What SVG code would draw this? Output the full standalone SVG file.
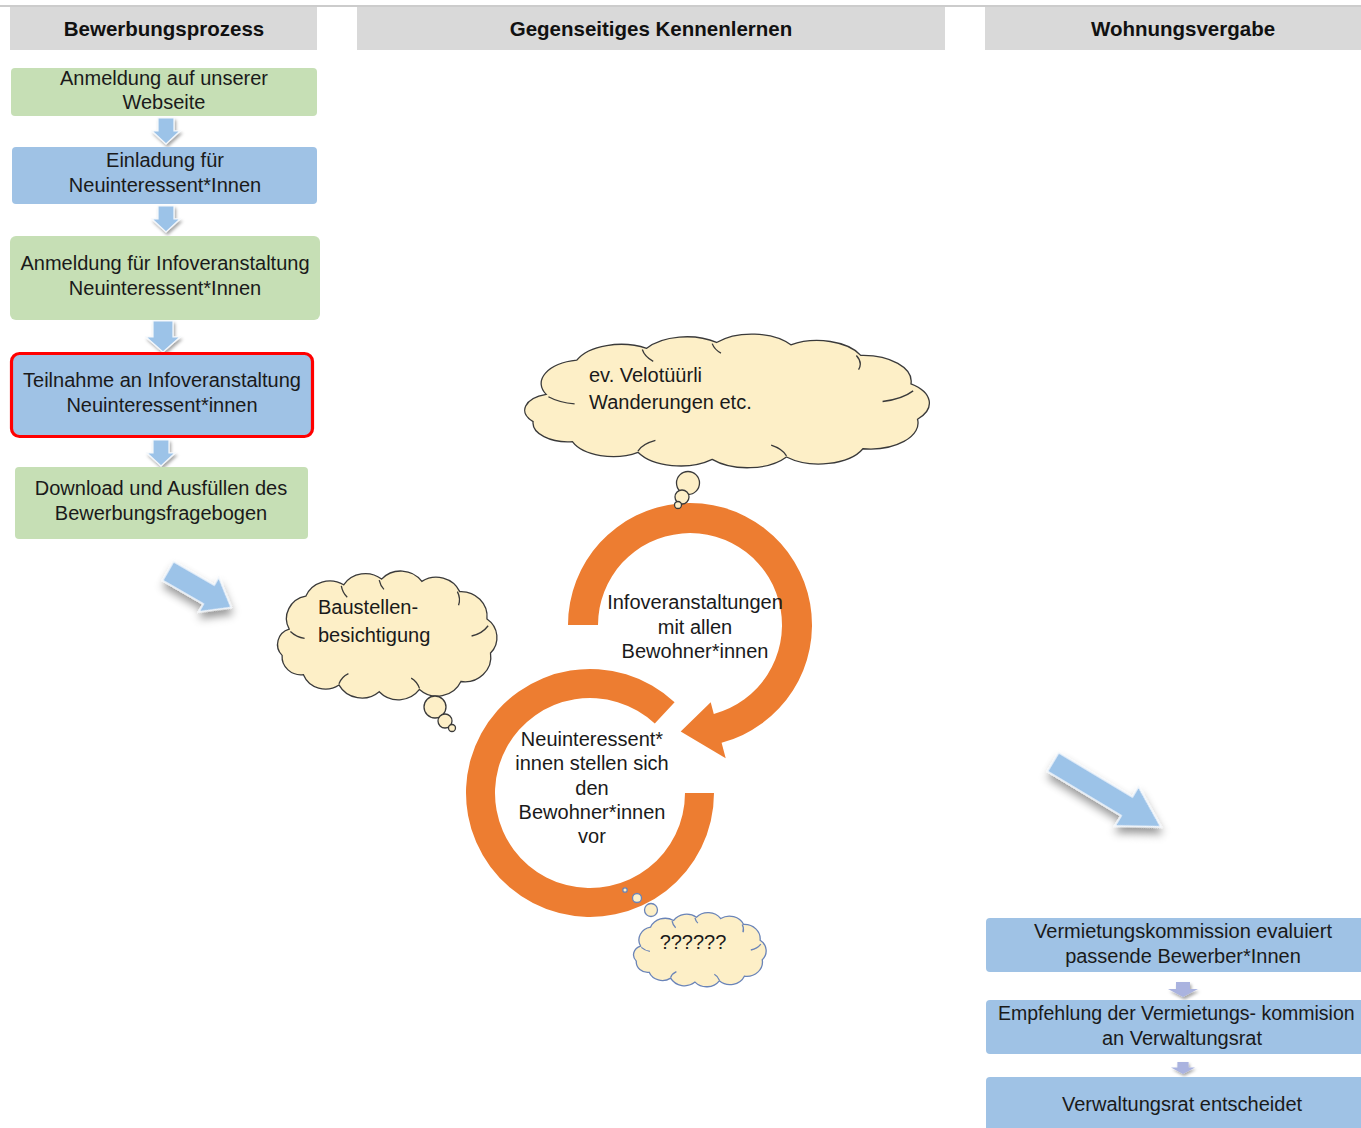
<svg xmlns="http://www.w3.org/2000/svg" xmlns:xlink="http://www.w3.org/1999/xlink" width="1361" height="1128" viewBox="0 0 1361 1128">
<style>
.hdr{fill:#d9d9d9}
.ht{font-family:"Liberation Sans",Arial,sans-serif;font-weight:bold;font-size:20.5px;fill:#111;text-anchor:middle}
.t{font-family:"Liberation Sans",Arial,sans-serif;font-size:20px;fill:#1a1a1a;text-anchor:middle}
.tl{font-family:"Liberation Sans",Arial,sans-serif;font-size:20px;fill:#1a1a1a}
.g{fill:#c6dfb5}
.b{fill:#9fc2e5}
.arr{fill:#9cc3e8;stroke:#f4f8fc;stroke-width:1.2;filter:url(#sh)}
.arr2{fill:#aab3df;filter:url(#sh)}
.darr{fill:#9cc3e8;stroke:#f4f8fc;stroke-width:1.5;filter:url(#sh2)}
.orange{fill:#ed7d31}
.cl{fill:#fdefc7;stroke:#3a3a3a;stroke-width:1.3}
.cl3{fill:#fdefc7;stroke:#6a84b8;stroke-width:1.3}
</style>
<defs>
<filter id="sh" x="-50%" y="-50%" width="200%" height="200%">
<feDropShadow dx="1.5" dy="2.5" stdDeviation="1.8" flood-color="#000" flood-opacity="0.35"/>
</filter>
<filter id="sh2" x="-50%" y="-50%" width="200%" height="200%">
<feDropShadow dx="4" dy="5" stdDeviation="4" flood-color="#000" flood-opacity="0.4"/>
</filter>
<symbol id="cloud" viewBox="6 3 190 116" preserveAspectRatio="none" overflow="visible">
<path vector-effect="non-scaling-stroke" d="M18,55 A20,20 0 0 1 32,26 A22,22 0 0 1 64,16 A22,22 0 0 1 96,11 A22,22 0 0 1 130,13 A22,22 0 0 1 162,22 A22,22 0 0 1 185,46 A20,20 0 0 1 188,76 A22,22 0 0 1 163,101 A22,22 0 0 1 128,108 A22,22 0 0 1 94,110 A22,22 0 0 1 60,104 A20,20 0 0 1 30,95 A16,16 0 0 1 12,78 A14,14 0 0 1 18,55 Z"/>
<path vector-effect="non-scaling-stroke" fill="none" d="M62,17 Q63,23 67,27 M160,22 Q163,28 161,34 M186,52 Q181,59 172,61 M128,107 Q126,101 121,98 M60,103 Q62,97 68,94 M19,57 Q24,62 31,63 M94,12 Q95,17 98,20"/>
</symbol>
<path id="dn" d="M-8,0 H8 V13 H14 L0,26 L-14,13 H-8 Z"/>
<path id="dnL" d="M-10,0 H10 V16 H17 L0,31 L-17,16 H-10 Z"/>
<path id="dnS" d="M-7,0 H7 V7 H15 L0,15 L-15,7 H-7 Z"/>
</defs>

<line x1="0" y1="6" x2="1361" y2="6" stroke="#9a9a9a" stroke-width="1.2"/>

<g id="header-bewerbungsprozess"><rect class="hdr" x="10" y="7" width="307" height="43"/><text class="ht" x="164" y="36">Bewerbungsprozess</text></g>
<g id="header-kennenlernen"><rect class="hdr" x="357" y="7" width="588" height="43"/><text class="ht" x="651" y="36">Gegenseitiges Kennenlernen</text></g>
<g id="header-wohnungsvergabe"><rect class="hdr" x="985" y="7" width="376" height="43"/><text class="ht" x="1183" y="36">Wohnungsvergabe</text></g>

<g id="connectors">
<use href="#dn" class="arr" x="166" y="118"/>
<use href="#dn" class="arr" x="166" y="206"/>
<use href="#dnL" class="arr" x="163" y="321"/>
<use href="#dn" class="arr" x="161" y="440"/>
<path class="darr" transform="translate(168,571) rotate(30)" d="M0,-11 H47 V-20 L73,0 L47,20 V11 H0 Z"/>
<path class="darr" transform="translate(1053,762) rotate(31)" d="M0,-11 H86 V-23 L126,0 L86,23 V11 H0 Z"/>
<use href="#dnS" class="arr2" x="1183" y="982"/>
<use href="#dnS" class="arr2" x="1183" y="1062" transform="translate(1183,1062) scale(0.8) translate(-1183,-1062)"/>
<path id="cycle-arrow-top" class="orange" d="M568,625 A122,122 0 1 1 721.6,742.8 L725.7,758.3 L680.7,731.6 L710.7,702.3 L713.8,713.9 A92,92 0 1 0 598,625 Z"/>
<path id="cycle-arrow-bottom" class="orange" d="M714,793 A124,124 0 1 1 674.6,702.3 L654.8,723.6 A95,95 0 1 0 685,793 Z"/>
</g>

<g id="n1"><rect class="g" x="11" y="68" width="306" height="48" rx="4"/><text class="t" x="164" y="85">Anmeldung auf unserer</text><text class="t" x="164" y="109">Webseite</text></g>
<g id="n2"><rect class="b" x="12" y="147" width="305" height="57" rx="4"/><text class="t" x="165" y="167">Einladung für</text><text class="t" x="165" y="192">Neuinteressent*Innen</text></g>
<g id="n3"><rect class="g" x="10" y="236" width="310" height="84" rx="6"/><text class="t" x="165" y="270">Anmeldung für Infoveranstaltung</text><text class="t" x="165" y="295">Neuinteressent*Innen</text></g>
<g id="n4"><rect class="b" x="11.5" y="353.5" width="301" height="83" rx="8" stroke="#ff0000" stroke-width="3.2"/><text class="t" x="162" y="387">Teilnahme an Infoveranstaltung</text><text class="t" x="162" y="412">Neuinteressent*innen</text></g>
<g id="n5"><rect class="g" x="15" y="467" width="293" height="72" rx="4"/><text class="t" x="161" y="495">Download und Ausfüllen des</text><text class="t" x="161" y="520">Bewerbungsfragebogen</text></g>

<g id="cycle-top-label"><text class="t" x="695" y="609">Infoveranstaltungen</text><text class="t" x="695" y="634">mit allen</text><text class="t" x="695" y="658">Bewohner*innen</text></g>
<g id="cycle-bottom-label"><text class="t" x="592" y="746">Neuinteressent*</text><text class="t" x="592" y="770">innen stellen sich</text><text class="t" x="592" y="795">den</text><text class="t" x="592" y="819">Bewohner*innen</text><text class="t" x="592" y="843">vor</text></g>

<g id="cloud-velo">
<use href="#cloud" class="cl" x="520" y="333" width="415" height="137"/>
<circle class="cl" cx="688" cy="483" r="11.5"/><circle class="cl" cx="682" cy="497" r="7"/><circle class="cl" cx="678" cy="505" r="3.5"/>
<text class="tl" x="589" y="382">ev. Velotüürli</text><text class="tl" x="589" y="409">Wanderungen etc.</text>
</g>
<g id="cloud-baustelle">
<use href="#cloud" class="cl" x="275" y="570" width="225" height="132"/>
<circle class="cl" cx="435" cy="707" r="11"/><circle class="cl" cx="445" cy="721" r="7"/><circle class="cl" cx="452" cy="728" r="3.5"/>
<text class="tl" x="318" y="614">Baustellen-</text><text class="tl" x="318" y="642">besichtigung</text>
</g>
<g id="cloud-questions">
<use href="#cloud" class="cl3" x="632" y="912" width="136" height="76"/>
<circle class="cl3" cx="651" cy="910" r="6.5"/><circle class="cl3" cx="637" cy="898" r="4.5"/><circle class="cl3" cx="625" cy="890" r="2.2"/>
<text class="t" x="693" y="949">??????</text>
</g>

<g id="r1"><rect class="b" x="986" y="918" width="390" height="54" rx="4"/><text class="t" x="1183" y="938">Vermietungskommission evaluiert</text><text class="t" x="1183" y="963">passende Bewerber*Innen</text></g>
<g id="r2"><rect class="b" x="986" y="1000" width="390" height="54" rx="4"/><text class="tl" x="998" y="1020" style="font-size:19.5px">Empfehlung der Vermietungs- kommision</text><text class="t" x="1182" y="1045">an Verwaltungsrat</text></g>
<g id="r3"><rect class="b" x="986" y="1077" width="390" height="60" rx="4"/><text class="t" x="1182" y="1111">Verwaltungsrat entscheidet</text></g>
</svg>
